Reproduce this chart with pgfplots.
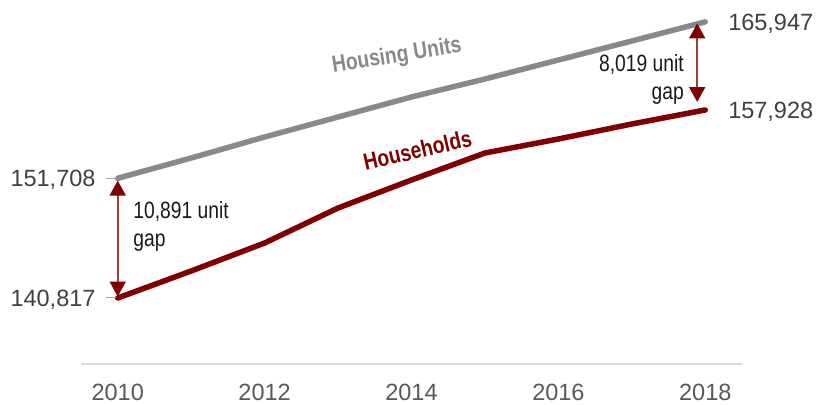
\documentclass[border=0pt]{standalone}
\usepackage{fontspec}
\setmainfont{Liberation Sans}
\newfontfamily\narrowfont[FakeStretch=0.82]{Liberation Sans}
\usepackage{pgfplots}
\usepackage{pgfplotstable}
\pgfplotsset{compat=1.18}
\usetikzlibrary{arrows.meta}
\definecolor{hugray}{RGB}{137,137,137}
\definecolor{hhred}{RGB}{128,0,0}
\definecolor{arrowline}{RGB}{160,60,60}
\definecolor{labgray}{RGB}{64,64,64}
\definecolor{yeargray}{RGB}{89,89,89}
\definecolor{axgray}{RGB}{217,217,217}
\definecolor{tickgray}{RGB}{166,166,166}
\definecolor{gaptext}{RGB}{25,25,25}

\pgfplotstableread{
year units households
2010 151708 140817
2011 153557 143274
2012 155468 145822
2013 157288 149007
2014 159108 151555
2015 160746 154012
2016 162475 155286
2017 164204 156651
2018 165947 157928
}\datatable

\begin{document}
\begin{tikzpicture}
\useasboundingbox (0,0) rectangle (831bp,405bp);
\begin{axis}[
  at={(81bp,41bp)}, anchor=south west,
  scale only axis, width=661bp, height=364bp,
  xmin=2009.5, xmax=2018.5, ymin=134811, ymax=167935,
  axis x line=bottom, axis y line=none,
  x axis line style={-, draw=axgray, line width=2bp},
  xtick={2010,2012,2014,2016,2018},
  xticklabels={2010,2012,2014,2016,2018},
  major tick length=0pt,
  tick style={draw=none},
  xticklabel style={font=\fontsize{23.5bp}{28bp}\selectfont, text=yeargray, anchor=base, inner sep=0pt, yshift=-37bp},
  clip=false,
]
\addplot[hugray, line width=5.5bp, line cap=round, line join=round] table[x=year,y=units]{\datatable};
\addplot[hhred, line width=5.5bp, line cap=round, line join=round] table[x=year,y=households]{\datatable};

\draw[tickgray, line width=1bp] (axis cs:2009.84,151708) -- (axis cs:2009.98,151708);
\draw[tickgray, line width=1bp] (axis cs:2009.84,140817) -- (axis cs:2009.98,140817);

\draw[arrowline, line width=1.8bp, {Triangle[length=15bp,width=16bp,color=hhred]}-{Triangle[length=15bp,width=16bp,color=hhred]}] (axis cs:2010,151500) -- (axis cs:2010,140950);
\draw[arrowline, line width=1.8bp, {Triangle[length=15bp,width=16bp,color=hhred]}-{Triangle[length=15bp,width=16bp,color=hhred]}] (axis cs:2017.89,165800) -- (axis cs:2017.89,158650);

\node[anchor=base east, text=labgray, inner sep=0pt, font=\fontsize{23.5bp}{28bp}\selectfont, yshift=-8.3bp] at (axis cs:2009.70,151708) {151,708};
\node[anchor=base east, text=labgray, inner sep=0pt, font=\fontsize{23.5bp}{28bp}\selectfont, yshift=-8.3bp] at (axis cs:2009.70,140817) {140,817};
\node[anchor=base west, text=labgray, inner sep=0pt, font=\fontsize{23.5bp}{28bp}\selectfont, yshift=-8.3bp] at (axis cs:2018.31,165947) {165,947};
\node[anchor=base west, text=labgray, inner sep=0pt, font=\fontsize{23.5bp}{28bp}\selectfont, yshift=-8.3bp] at (axis cs:2018.31,157928) {157,928};

\node[anchor=base west, text=gaptext, inner sep=0pt, font=\narrowfont\fontsize{23.5bp}{28bp}\selectfont] at (axis cs:2010.21,148070) {10,891 unit};
\node[anchor=base west, text=gaptext, inner sep=0pt, font=\narrowfont\fontsize{23.5bp}{28bp}\selectfont] at (axis cs:2010.21,145485) {gap};
\node[anchor=base east, text=gaptext, inner sep=0pt, font=\narrowfont\fontsize{23.5bp}{28bp}\selectfont] at (axis cs:2017.71,161410) {8,019 unit};
\node[anchor=base east, text=gaptext, inner sep=0pt, font=\narrowfont\fontsize{23.5bp}{28bp}\selectfont] at (axis cs:2017.71,158835) {gap};

\node[text=hugray, inner sep=0pt, rotate=9, font=\narrowfont\bfseries\fontsize{23.5bp}{28bp}\selectfont] at (axis cs:2013.80,162800) {Housing Units};
\node[text=hhred, inner sep=0pt, rotate=13, font=\narrowfont\bfseries\fontsize{23.5bp}{28bp}\selectfont] at (axis cs:2014.08,154285) {Households};
\end{axis}
\end{tikzpicture}
\end{document}
